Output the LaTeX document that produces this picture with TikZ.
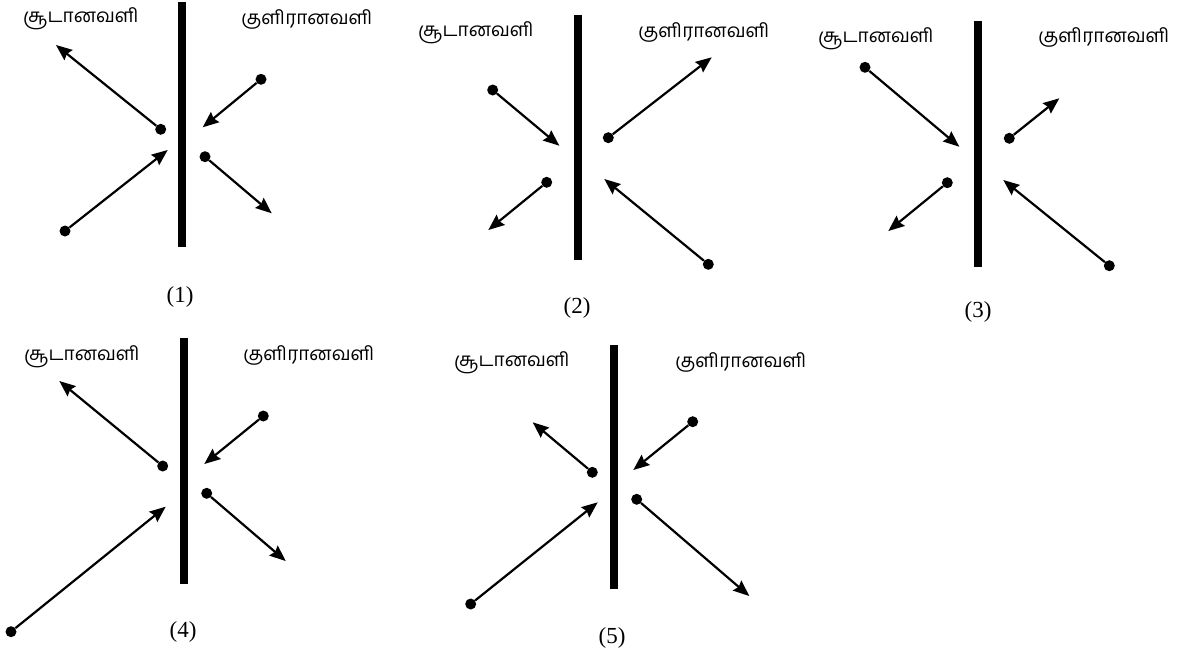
\documentclass[tikz,border=0pt]{standalone}
\usepackage{fontspec}
\setmainfont{Liberation Serif}
\newfontfamily\tamilfont[Script=Tamil]{Hind Madurai}
\usetikzlibrary{arrows.meta, positioning}
\tikzstyle{particle} = [circle, fill=black, inner sep=0pt, minimum size=11pt]
\tikzstyle{arrow} = [line width=2.2pt, -{Stealth[length=16pt, width=13pt, inset=2pt]}]
\tikzstyle{wall} = [line width=7.5pt]
\tikzstyle{air} = [font=\tamilfont\fontsize{19}{22}\selectfont]
\tikzstyle{caption} = [font=\fontsize{23}{26}\selectfont]

\begin{document}
\begin{tikzpicture}[x=1pt, y=-1pt]
    \useasboundingbox (0,0) rectangle (1184,657);
    % Panel 1
    \draw[wall] (182,2) -- (182,247);
    \node[air] (hot1) at (81,19) {சூடானவளி};
    \node[air] (cold1) at (307,19) {குளிரானவளி};
    \node[particle] (p1a) at (160.7,129.3) {};
    \coordinate (t1a) at (56,45);
    \node[particle] (p1b) at (65,231) {};
    \coordinate (t1b) at (167.7,150);
    \node[particle] (p1c) at (261,79.3) {};
    \coordinate (t1c) at (202.7,127.3);
    \node[particle] (p1d) at (205,156.7) {};
    \coordinate (t1d) at (271.7,213.3);
    \node[caption] (cap1) at (180,297) {(1)};
    \draw[arrow] (p1a) -- (t1a);
    \draw[arrow] (p1b) -- (t1b);
    \draw[arrow] (p1c) -- (t1c);
    \draw[arrow] (p1d) -- (t1d);

    % Panel 2
    \draw[wall] (578,15) -- (578,260);
    \node[air] (hot2) at (476,33) {சூடானவளி};
    \node[air] (cold2) at (704,32) {குளிரானவளி};
    \node[particle] (p2a) at (492.7,90) {};
    \coordinate (t2a) at (559.3,145.7);
    \node[particle] (p2b) at (608.3,137.7) {};
    \coordinate (t2b) at (711.7,57.3);
    \node[particle] (p2c) at (546.7,182.3) {};
    \coordinate (t2c) at (488.3,230);
    \node[particle] (p2d) at (708.3,264.3) {};
    \coordinate (t2d) at (604.3,179);
    \node[caption] (cap2) at (577,308) {(2)};
    \draw[arrow] (p2a) -- (t2a);
    \draw[arrow] (p2b) -- (t2b);
    \draw[arrow] (p2c) -- (t2c);
    \draw[arrow] (p2d) -- (t2d);

    % Panel 3
    \draw[wall] (978,21) -- (978,267);
    \node[air] (hot3) at (876,39) {சூடானவளி};
    \node[air] (cold3) at (1104,37) {குளிரானவளி};
    \node[particle] (p3a) at (865,67.3) {};
    \coordinate (t3a) at (959.3,146.7);
    \node[particle] (p3b) at (1009.3,138.3) {};
    \coordinate (t3b) at (1059.3,98.3);
    \node[particle] (p3c) at (947.3,182.7) {};
    \coordinate (t3c) at (888.3,231);
    \node[particle] (p3d) at (1109.3,265.7) {};
    \coordinate (t3d) at (1003.3,180);
    \node[caption] (cap3) at (978,312) {(3)};
    \draw[arrow] (p3a) -- (t3a);
    \draw[arrow] (p3b) -- (t3b);
    \draw[arrow] (p3c) -- (t3c);
    \draw[arrow] (p3d) -- (t3d);

    % Panel 4
    \draw[wall] (184,338) -- (184,584);
    \node[air] (hot4) at (82,357) {சூடானவளி};
    \node[air] (cold4) at (309,355) {குளிரானவளி};
    \node[particle] (p4a) at (162.7,466) {};
    \coordinate (t4a) at (59.3,381);
    \node[particle] (p4b) at (11,631.7) {};
    \coordinate (t4b) at (165.7,506.7);
    \node[particle] (p4c) at (263.3,416) {};
    \coordinate (t4c) at (204.3,464);
    \node[particle] (p4d) at (206.7,493.3) {};
    \coordinate (t4d) at (285.7,561);
    \node[caption] (cap4) at (183,632) {(4)};
    \draw[arrow] (p4a) -- (t4a);
    \draw[arrow] (p4b) -- (t4b);
    \draw[arrow] (p4c) -- (t4c);
    \draw[arrow] (p4d) -- (t4d);

    % Panel 5
    \draw[wall] (614,345) -- (614,589);
    \node[air] (hot5) at (512,363) {சூடானவளி};
    \node[air] (cold5) at (741,362) {குளிரானவளி};
    \node[particle] (p5a) at (592.3,472.3) {};
    \coordinate (t5a) at (532.7,422.3);
    \node[particle] (p5b) at (470.7,604) {};
    \coordinate (t5b) at (597.7,502.3);
    \node[particle] (p5c) at (692.7,421.7) {};
    \coordinate (t5c) at (633.3,470);
    \node[particle] (p5d) at (636.7,499.3) {};
    \coordinate (t5d) at (749.3,596);
    \node[caption] (cap5) at (612,638) {(5)};
    \draw[arrow] (p5a) -- (t5a);
    \draw[arrow] (p5b) -- (t5b);
    \draw[arrow] (p5c) -- (t5c);
    \draw[arrow] (p5d) -- (t5d);
\end{tikzpicture}
\end{document}
